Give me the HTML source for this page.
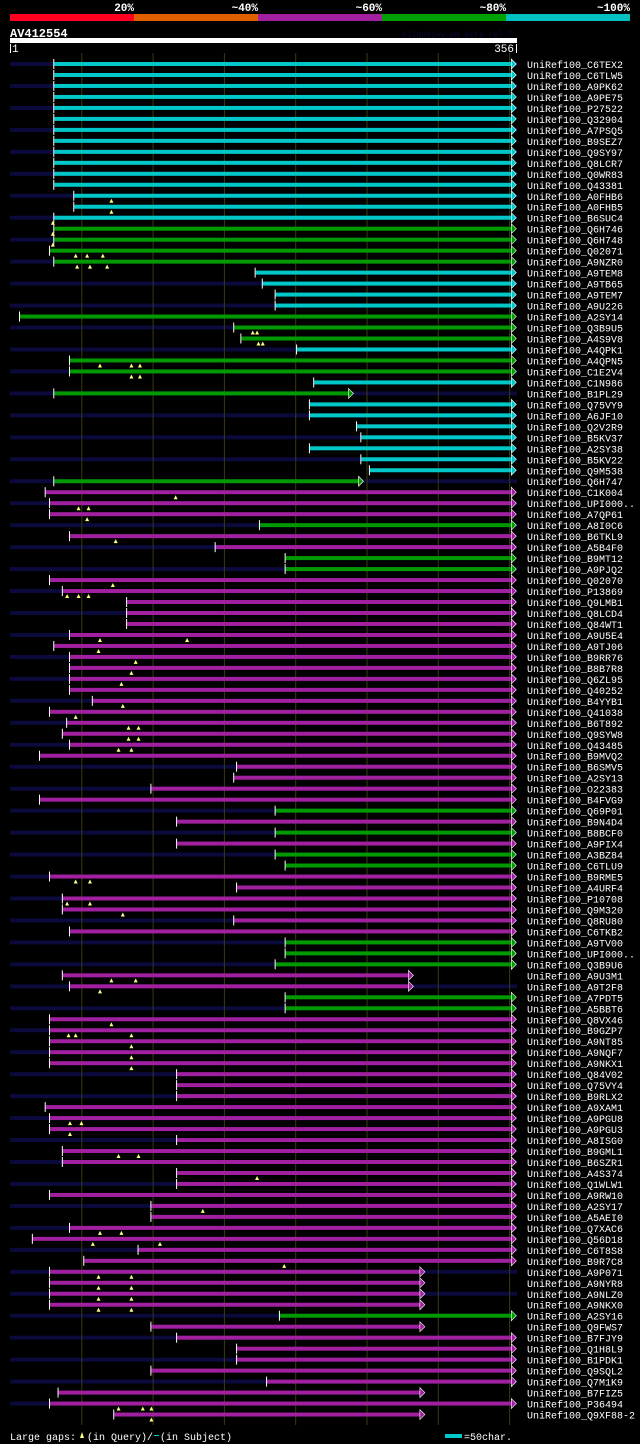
<!DOCTYPE html>
<html><head><meta charset="utf-8">
<style>
html,body{margin:0;padding:0;background:#000;}
body{width:640px;height:1444px;overflow:hidden;position:relative;font-family:"Liberation Mono",monospace;color:#fff;}
svg{position:absolute;left:0;top:0;}
</style></head>
<body>
<svg id="chart" width="640" height="1444" xmlns="http://www.w3.org/2000/svg"></svg>
<script>
const names=["C6TEX2","C6TLW5","A9PK62","A9PE75","P27522","Q32904","A7PSQ5","B9SEZ7","Q9SY97","Q8LCR7","Q0WR83","Q43381","A0FHB6","A0FHB5","B6SUC4","Q6H746","Q6H748","Q02071","A9NZR0","A9TEM8","A9TB65","A9TEM7","A9U226","A2SY14","Q3B9U5","A4S9V8","A4QPK1","A4QPN5","C1E2V4","C1N986","B1PL29","Q75VY9","A6JF10","Q2V2R9","B5KV37","A2SY38","B5KV22","Q9M538","Q6H747","C1K004","UPI000..","A7QP61","A8I0C6","B6TKL9","A5B4F0","B9MT12","A9PJQ2","Q02070","P13869","Q9LMB1","Q8LCD4","Q84WT1","A9U5E4","A9TJ06","B9RR76","B8B7R8","Q6ZL95","Q40252","B4YYB1","Q41038","B6T892","Q9SYW8","Q43485","B9MVQ2","B6SMV5","A2SY13","O22383","B4FVG9","Q69P01","B9N4D4","B8BCF0","A9PIX4","A3BZ84","C6TLU9","B9RME5","A4URF4","P10708","Q9M320","Q8RU80","C6TKB2","A9TV00","UPI000..","Q3B9U6","A9U3M1","A9T2F8","A7PDT5","A5BBT6","Q8VX46","B9GZP7","A9NT85","A9NQF7","A9NKX1","Q84V02","Q75VY4","B9RLX2","A9XAM1","A9PGU8","A9PGU3","A8ISG0","B9GML1","B6SZR1","A4S374","Q1WLW1","A9RW10","A2SY17","A5AEI0","Q7XAC6","Q56D18","C6T8S8","B9R7C8","A9P071","A9NYR8","A9NLZ0","A9NKX0","A2SY16","Q9FWS7","B7FJY9","Q1H8L9","B1PDK1","Q9SQL2","Q7M1K9","B7FIZ5","P36494","Q9XF88-2"];
const starts=[32,32,32,32,32,32,32,32,32,32,32,32,46,46,32,32,32,29,32,173,178,187,187,8,158,163,202,43,43,214,32,211,211,244,247,211,247,253,32,26,29,29,176,43,145,194,194,29,38,83,83,83,43,32,43,43,43,43,59,29,41,38,43,22,160,158,100,22,187,118,187,118,187,194,29,160,38,38,158,43,194,194,187,38,43,194,194,29,29,29,29,29,118,118,118,26,29,29,118,38,38,118,118,29,100,100,43,17,91,53,29,29,29,29,190,100,118,160,160,100,181,35,29,74];
const ends=[352,352,352,352,352,352,352,352,352,352,352,352,352,352,352,352,352,352,352,352,352,352,352,352,352,352,352,352,352,352,238,352,352,352,352,352,352,352,245,352,352,352,352,352,352,352,352,352,352,352,352,352,352,352,352,352,352,352,352,352,352,352,352,352,352,352,352,352,352,352,352,352,352,352,352,352,352,352,352,352,352,352,352,280,280,352,352,352,352,352,352,352,352,352,352,352,352,352,352,352,352,352,352,352,352,352,352,352,352,352,288,288,288,288,352,288,352,352,352,352,352,288,352,288];
// c=cyan g=green m=magenta; [code, run length]
const colorRuns=[["c",15],["g",4],["c",4],["g",3],["c",1],["g",2],["c",1],["g",1],["c",7],["g",1],["m",3],["g",1],["m",2],["g",2],["m",21],["g",1],["m",1],["g",1],["m",1],["g",2],["m",6],["g",3],["m",2],["g",2],["m",27],["g",1],["m",9]];
const colors=[];colorRuns.forEach(([c,n])=>{for(let k=0;k<n;k++)colors.push(c);});
const gapRows=[13,14,15,16,17,18,18,18,19,19,19,25,25,26,26,28,28,28,29,29,40,41,41,42,44,48,49,49,49,53,53,54,55,56,57,59,60,61,61,62,62,63,63,75,75,77,77,78,84,84,85,88,89,89,89,90,91,92,97,97,98,100,100,102,105,107,107,108,108,110,111,111,112,112,113,113,114,114,123,123,123,124];
const gapPos=[72,72,31,31,31,47,55,66,48,57,69,171,174,175,178,64,86,92,86,92,117,49,56,55,75,73,41,49,56,64,125,63,89,86,79,80,47,84,91,84,91,77,86,47,57,41,57,80,72,89,64,72,42,47,86,86,86,86,43,51,43,77,91,174,136,64,79,59,106,193,63,86,63,86,63,86,63,86,77,94,100,100];
const cmap={c:"#00c8c8",g:"#009a00",m:"#a020a0"};
const svg=document.getElementById("chart");
const NS="http://www.w3.org/2000/svg";
const x=r=>10+(r-1)*507/355;
const y=i=>64+i*10.98;
function mk(tag,attrs){const e=document.createElementNS(NS,tag);for(const k in attrs)e.setAttribute(k,attrs[k]);svg.appendChild(e);return e;}
const segCols=["#ff0020","#e06000","#a020a0","#00a000","#00c0c0"];
const segLabels=["20%","~40%","~60%","~80%","~100%"];
for(let i=0;i<5;i++){
 const r=mk("rect",{x:10+i*124,y:14,width:124,height:7,fill:segCols[i]});
 
 
 const t=mk("text",{x:10+(i+1)*124,y:11,"text-anchor":"end","font-size":"11","font-weight":"bold",fill:"#fff","font-family":"Liberation Mono, monospace"});
 t.textContent=segLabels[i];
 
 
}
let t=mk("text",{x:10,y:37,"font-size":"12","font-weight":"bold",fill:"#fff","font-family":"Liberation Mono, monospace"});t.textContent="AV412554";

t=mk("text",{x:402,y:37,"font-size":"8",fill:"#0a0a3a","font-family":"Liberation Mono, monospace"});t.textContent="AlignView.pm Beta rel.7";

let q=mk("rect",{x:10,y:38,width:507,height:5,fill:"#fff"});

mk("rect",{x:10,y:44,width:1,height:9,fill:"#fff"});mk("rect",{x:516,y:44,width:1,height:9,fill:"#fff"});
t=mk("text",{x:12,y:52,"font-size":"11",fill:"#fff","font-family":"Liberation Mono, monospace"});t.textContent="1";

t=mk("text",{x:514,y:52,"text-anchor":"end","font-size":"11",fill:"#fff","font-family":"Liberation Mono, monospace"});t.textContent="356";

for(let i=0;i<names.length;i++){if(i%2===0){const b=mk("rect",{x:10,y:y(i)-2,width:507,height:4,fill:"#0a0a3c"});
 }}
for(let k=1;k<=7;k++){const g=mk("rect",{x:10+k*71.3,y:53,width:1,height:1372,fill:"#3a3a10"});
 }
for(let i=0;i<names.length;i++){
 const yy=y(i),x0=x(starts[i]),x1=x(ends[i]),c=cmap[colors[i]];
 const bar=mk("rect",{x:x0,y:yy-2,width:x1-x0,height:4,fill:c});
 
 
 const tk=mk("rect",{x:x0-1,y:yy-5,width:1,height:10,fill:"#fff"});
 
 
 const ar=mk("polygon",{points:`${x1},${yy-5} ${x1+5},${yy} ${x1},${yy+5}`,fill:c,stroke:"#fff","stroke-width":"0.6"});
 
 
 const lb=mk("text",{x:527,y:yy+4,"font-size":"10",fill:"#fff","font-family":"Liberation Mono, monospace"});
 lb.textContent="UniRef100_"+names[i];
 
 
}
for(let k=0;k<gapRows.length;k++){
 const xx=x(gapPos[k]),yy=y(gapRows[k]-1);
 const m=mk("polygon",{points:`${xx},${yy+3} ${xx+2},${yy+7} ${xx-2},${yy+7}`,fill:"#ffff80"});
 
 
}
t=mk("text",{x:10,y:1440,"font-size":"10",fill:"#fff","font-family":"Liberation Mono, monospace"});t.textContent="Large gaps:";

let m=mk("polygon",{points:"82,1432 84,1438 80,1438",fill:"#ffff80"});

t=mk("text",{x:87,y:1440,"font-size":"10",fill:"#fff","font-family":"Liberation Mono, monospace"});t.textContent="(in Query)/";

mk("rect",{x:154,y:1435,width:5,height:1,fill:"#00c8c8"});
t=mk("text",{x:160,y:1440,"font-size":"10",fill:"#fff","font-family":"Liberation Mono, monospace"});t.textContent=" (in Subject)";

let s=mk("rect",{x:445,y:1434,width:17,height:4,fill:"#00c8c8"});

t=mk("text",{x:464,y:1440,"font-size":"10",fill:"#fff","font-family":"Liberation Mono, monospace"});t.textContent="=50char.";

</script>
</body></html>
